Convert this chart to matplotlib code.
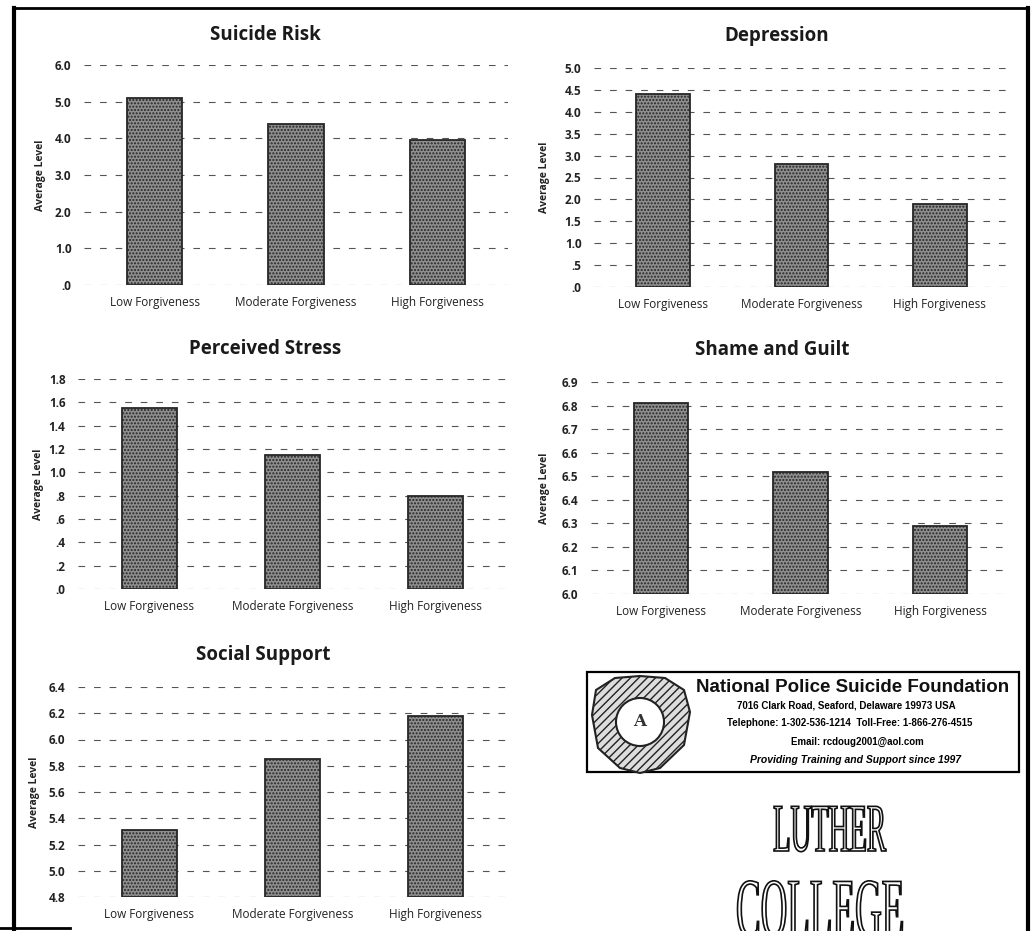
import numpy as np
import matplotlib.pyplot as plt
from matplotlib.patches import Rectangle, PathPatch, Polygon, Circle
from matplotlib.lines import Line2D
from matplotlib.textpath import TextPath
from matplotlib.font_manager import FontProperties
from matplotlib.transforms import Affine2D

# category labels shared by every panel
groups = ['Low Forgiveness', 'Moderate Forgiveness', 'High Forgiveness']

# average levels per forgiveness group
suicide_risk = [5.1, 4.4, 3.95]
depression = [4.4, 2.8, 1.9]
perceived_stress = [1.55, 1.15, 0.8]
shame_guilt = [6.81, 6.52, 6.29]
social_support = [5.31, 5.85, 6.18]

# y ranges and tick steps
suicide_ticks = np.arange(0, 6.01, 1.0)
depression_ticks = np.arange(0, 5.01, 0.5)
stress_ticks = np.arange(0, 1.81, 0.2)
shame_ticks = np.arange(6.0, 6.91, 0.1)
support_ticks = np.arange(4.8, 6.41, 0.2)

W, H = 1034, 931
fig = plt.figure(figsize=(W / 100, H / 100), dpi=100)
fig.patch.set_facecolor('white')

FONT = 'Open Sans'


def px_axes(x0, x1, ytop, ybot):
    return fig.add_axes([x0 / W, 1 - ybot / H, (x1 - x0) / W, (ybot - ytop) / H])


def fmt(v):
    s = f'{v:.1f}'
    if s.startswith('0.'):
        s = s[1:]
    return s


def panel(box, values, ticks, title, title_xy, ylabel_x):
    ax = px_axes(*box)
    x = np.arange(len(groups))
    ax.bar(x, np.array(values) - ticks[0], bottom=ticks[0], width=0.39,
           color='#8f8f8f', edgecolor='#262626', linewidth=1.3,
           hatch='.....', zorder=3)
    ax.set_xlim(-0.5, 2.5)
    ax.set_ylim(ticks[0], ticks[-1])
    ax.set_yticks(ticks)
    ax.set_yticklabels([fmt(t) for t in ticks], fontsize=8.5, fontweight='bold',
                       family=FONT, color='#222222')
    ax.set_xticks(x)
    ax.set_xticklabels(groups, fontsize=8.5, family=FONT, color='#222222')
    ax.tick_params(length=0, axis='y', pad=9)
    ax.tick_params(length=0, axis='x', pad=8)
    for s in ax.spines.values():
        s.set_visible(False)
    ax.yaxis.grid(True, color='#555555', linestyle=(0, (6, 8)), linewidth=0.8)
    ax.set_axisbelow(True)
    fig.text(title_xy[0] / W, 1 - title_xy[1] / H, title, ha='center', va='center',
             fontsize=13.5, fontweight='bold', family=FONT, color='#1a1a1a')
    mid = (box[2] + box[3]) / 2
    fig.text(ylabel_x / W, 1 - mid / H, 'Average Level', rotation=90, ha='center',
             va='center', fontsize=7.5, fontweight='bold', family=FONT, color='#222222')
    return ax


panel((84, 508, 65, 285), suicide_risk, suicide_ticks, 'Suicide Risk', (265, 35), 40)
panel((594, 1009, 68, 287), depression, depression_ticks, 'Depression', (777, 36), 545)
panel((78, 507, 379, 589), perceived_stress, stress_ticks, 'Perceived Stress', (265, 349), 38)
panel((591, 1010, 382, 594), shame_guilt, shame_ticks, 'Shame and Guilt', (772, 350), 545)
panel((78, 507, 687, 897), social_support, support_ticks, 'Social Support', (263, 655), 35)

# overlay in pixel coordinates for the page frame, foundation box and logo text
ov = fig.add_axes([0, 0, 1, 1], zorder=-1)
ov.set_xlim(0, W)
ov.set_ylim(H, 0)
ov.axis('off')

for xs, ys, lw in [([14, 14], [8, 931], 3.0), ([14, 1028], [8, 8], 2.0),
                   ([1028, 1028], [8, 931], 3.0), ([0, 70], [928, 928], 2.0)]:
    ov.add_line(Line2D(xs, ys, color='black', linewidth=lw))

# foundation card
ov.add_patch(Rectangle((587, 672), 432, 100, fill=False, edgecolor='black', linewidth=1.6))
shield = Polygon([(596, 690), (615, 678), (640, 676), (665, 678), (684, 690),
                  (690, 712), (684, 745), (660, 768), (640, 773), (620, 768),
                  (598, 748), (592, 715)], closed=True, facecolor='#dddddd',
                 edgecolor='#222222', linewidth=1.5, hatch='////')
ov.add_patch(shield)
ov.add_patch(Circle((640, 722), 24, facecolor='white', edgecolor='#222222', linewidth=1.5))
ov.text(640, 722, 'A', ha='center', va='center', fontsize=12, fontweight='bold',
        family='DejaVu Serif', color='#333333')

ov.text(853, 688, 'National Police Suicide Foundation', ha='center', va='center',
        fontsize=13.5, fontweight='bold', family='Liberation Sans', color='#111111')
ov.text(846, 705, '7016 Clark Road, Seaford, Delaware 19973 USA', ha='center',
        va='center', fontsize=7, fontweight='bold', family='Liberation Sans')
ov.text(850, 723, 'Telephone: 1-302-536-1214  Toll-Free: 1-866-276-4515', ha='center',
        va='center', fontsize=7, fontweight='bold', family='Liberation Sans')
ov.text(857, 742, 'Email: rcdoug2001@aol.com', ha='center', va='center',
        fontsize=7, fontweight='bold', family='Liberation Sans')
ov.text(855, 760, 'Providing Training and Support since 1997', ha='center',
        va='center', fontsize=7.5, fontweight='bold', style='italic',
        family='Liberation Sans')


def condensed_word(word, cx, baseline, cap_h, width):
    fp = FontProperties(family='Liberation Serif')
    tp = TextPath((0, 0), word, size=100, prop=fp)
    bb = tp.get_extents()
    sx = width / bb.width
    sy = cap_h / 66.0
    tr = Affine2D().translate(-bb.x0 - bb.width / 2, 0).scale(sx, -sy).translate(cx, baseline)
    ov.add_patch(PathPatch(tr.transform_path(tp), facecolor='white',
                           edgecolor='#111111', linewidth=1.2))


condensed_word('LUTHER', 830, 851, 45, 112)
condensed_word('COLLEGE', 820, 936, 55, 165)

fig.savefig('out.png', dpi=100, facecolor='white')
